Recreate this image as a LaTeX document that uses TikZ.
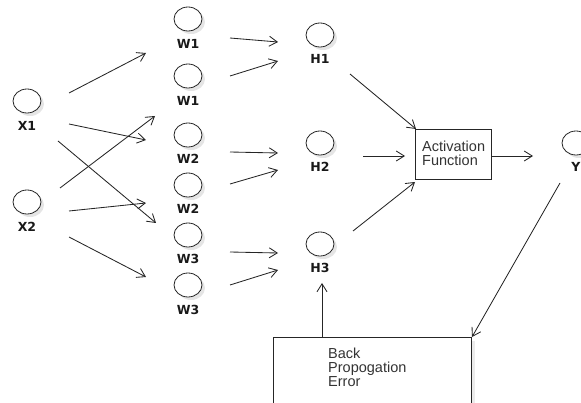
\documentclass[tikz,border=0pt]{standalone}
\usepackage{fontspec}
\setmainfont{Liberation Sans}
\newfontfamily\lblfont{DejaVu Sans}
\usetikzlibrary{arrows.meta,shapes.geometric}
\tikzset{
  neuron/.style={ellipse,draw=black!85,fill=white,line width=0.8pt,minimum width=28pt,minimum height=24pt,inner sep=0pt},
  shadowc/.style={ellipse,fill=black!10,minimum width=28pt,minimum height=24pt,inner sep=0pt},
  lbl/.style={font=\lblfont\bfseries\fontsize{12.5}{13}\selectfont,text=black!90,inner sep=0pt},
  boxtext/.style={font=\fontsize{14.5}{14}\selectfont,text=black!80,align=left,inner sep=0pt},
  conn/.style={draw=black!85,line width=0.85pt,-{Straight Barb[length=8pt,width=10pt]}},
  boxs/.style={draw=black!85,line width=0.9pt,fill=white}
}
\begin{document}
\begin{tikzpicture}[x=1pt,y=-1pt]
\useasboundingbox (0,0) rectangle (581,403);
\clip (0,0) rectangle (581,403);
% neurons: name/x/y/label/label-y
\foreach \n/\x/\y/\t/\ly in {X1/27/101/X1/126, X2/27/202/X2/227,
  W1a/188/19/W1/44, W1b/188/76/W1/101, W2a/188/135/W2/159, W2b/188/185/W2/209,
  W3a/188/235/W3/259, W3b/188/285/W3/310,
  H1/320/35/H1/59, H2/320/143/H2/167, H3/320/244/H3/268, Y/576/143/Y/167}{
  \node[shadowc] at (\x+3,\y+3) {};
  \node[neuron] (\n) at (\x,\y) {};
  \node[lbl] (\n l) at (\x,\ly) {\t};
}
% activation box
\node[boxs,minimum width=76pt,minimum height=50pt,anchor=north west] (act) at (415,129) {};
\node[boxtext,anchor=north west] (actt) at (422,141) {Activation\\Function};
% back propagation box
\fill[black!8] (277,341) rectangle (475,420);
\node[boxs,minimum width=198pt,minimum height=83pt,anchor=north west] (bp) at (273,337) {};
\node[boxtext,anchor=north west] (bpt) at (328,348) {Back\\Propogation\\Error};
% connector end coordinates
\coordinate (a1) at (69,93);   \coordinate (b1) at (146,53);
\coordinate (a2) at (69,124);  \coordinate (b2) at (146,140);
\coordinate (a3) at (58,141);  \coordinate (b3) at (156,223);
\coordinate (a4) at (60,188);  \coordinate (b4) at (155,116);
\coordinate (a5) at (69,211);  \coordinate (b5) at (146,203);
\coordinate (a6) at (69,237);  \coordinate (b6) at (146,277);
\coordinate (c1) at (230,38);  \coordinate (d1) at (278,42);
\coordinate (c2) at (230,76);  \coordinate (d2) at (278,61);
\coordinate (c3) at (230,152); \coordinate (d3) at (278,153);
\coordinate (c4) at (230,184); \coordinate (d4) at (278,170);
\coordinate (c5) at (230,252); \coordinate (d5) at (278,253);
\coordinate (c6) at (230,285); \coordinate (d6) at (278,270);
\coordinate (e1) at (350,74);  \coordinate (f1) at (416,129);
\coordinate (e2) at (363,156); \coordinate (f2) at (405,156);
\coordinate (e3) at (353,231); \coordinate (f3) at (415,182);
\coordinate (g1) at (492,156); \coordinate (g2) at (533,156);
\coordinate (y1) at (560,183); \coordinate (y2) at (472,337);
\coordinate (p1) at (322,337); \coordinate (p2) at (322,283);
\foreach \s/\e in {a1/b1,a2/b2,a3/b3,a4/b4,a5/b5,a6/b6,c1/d1,c2/d2,c3/d3,c4/d4,c5/d5,c6/d6,e1/f1,e2/f2,e3/f3,g1/g2,y1/y2,p1/p2}{
  \draw[conn] (\s) -- (\e);
}
\end{tikzpicture}
\end{document}
